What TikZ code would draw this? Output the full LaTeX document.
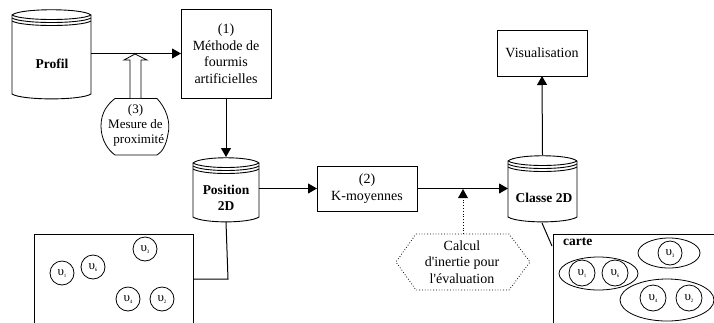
\documentclass[tikz,border=0pt]{standalone}
\usepackage{fontspec}
\setmainfont{Liberation Serif}
\usetikzlibrary{arrows.meta,shapes.geometric}
\newcommand{\dbcyl}[5]{% name, x1, top y, x2, bottom y
  \pgfmathsetmacro{\xa}{#2}\pgfmathsetmacro{\xb}{#4}\pgfmathsetmacro{\ya}{#3}\pgfmathsetmacro{\yb}{#5}
  \pgfmathsetmacro{\yc}{\ya+6}
  \node[anchor=north west,minimum width=\xb-\xa,minimum height=\yb-\ya,inner sep=0pt,outer sep=0pt] (#1) at (\xa,\ya) {};
  \draw[cylline,fill=white] (\xa,\yc) .. controls (\xa+8,\ya-1) and (\xb-8,\ya-1) .. (\xb,\yc)
     -- (\xb,\yb-5) .. controls (\xb-10,\yb+1.5) and (\xa+10,\yb+1.5) .. (\xa,\yb-5) -- cycle;
  \foreach \d in {0,3,6}{
    \draw[cylline] (\xa,\yc+\d) .. controls (\xa+10,\yc+\d+6) and (\xb-10,\yc+\d+6) .. (\xb,\yc+\d);}
}
\tikzset{
  x=1pt,y=-1pt,
  cylline/.style={line width=0.9pt},
  conn/.style={line width=1pt},
  arr/.style={conn,-{Triangle[length=9pt,width=10pt]}},
  boxn/.style={draw,line width=0.9pt,inner sep=0pt,outer sep=0pt,fill=white,align=center,
     font=\fontsize{14}{16.5}\selectfont},
  lab/.style={inner sep=0pt,align=center,font=\fontsize{14}{16.5}\selectfont},
  blab/.style={inner sep=0pt,align=center,font=\fontsize{13.5}{16}\selectfont\bfseries},
  item/.style={circle,draw,line width=0.8pt,minimum size=24pt,inner sep=0pt,font=\fontsize{13}{13}\selectfont},
  group/.style={ellipse,draw,line width=0.8pt,inner sep=0pt},
}
\newcommand{\vv}[1]{υ\raisebox{-2pt}{\fontsize{5}{5}\selectfont #1}}
\begin{document}
\begin{tikzpicture}
\useasboundingbox (0,0) rectangle (714,322);
\clip (0,0) rectangle (714,322);
% databases
\dbcyl{profil}{12}{9}{91}{99}
\dbcyl{posc}{193}{157}{259}{222}
\dbcyl{classe}{508}{155}{577}{222}
\node[blab] at (52,64) {Profil};
\node[blab] at (226,198) {Position\\2D};
\node[blab,anchor=west] at (515.5,198) {Classe 2D};
% boxes
\node[boxn,minimum width=90pt,minimum height=89pt] (meth) at (226,53.5) {(1)\\Méthode de\\fourmis\\artificielles};
\node[boxn,minimum width=100pt,minimum height=45pt] (km) at (367,188.5) {(2)\\K-moyennes};
\node[boxn,minimum width=90pt,minimum height=46pt] (vis) at (542,53) {Visualisation};
% maps
\node[draw,line width=0.9pt,minimum width=159pt,minimum height=120pt,inner sep=0pt,outer sep=0pt,anchor=north west] (mapa) at (34,234) {};
\node[draw,line width=0.9pt,minimum width=200pt,minimum height=120pt,inner sep=0pt,outer sep=0pt,anchor=north west] (mapb) at (553,234) {};
\node[anchor=west,inner sep=0pt,font=\fontsize{13.5}{16}\selectfont\bfseries] at (563,242) {carte};
% left map items
\node[item] (a1) at (62,273) {\vv{1}};
\node[item] (a2) at (93,267) {\vv{6}};
\node[item] (a3) at (145,249) {\vv{3}};
\node[item] (a4) at (128,299) {\vv{4}};
\node[item] (a5) at (162,299) {\vv{2}};
% right map groups
\node[group,minimum width=62pt,minimum height=30pt] (g1) at (669,253) {};
\node[group,minimum width=79pt,minimum height=33pt] (g2) at (598.5,273.5) {};
\node[group,minimum width=94pt,minimum height=42pt] (g3) at (667,300) {};
\node[item] (b3) at (670,253) {\vv{3}};
\node[item,minimum size=26pt] (b1) at (582,273) {\vv{1}};
\node[item,minimum size=26pt] (b6) at (615,273) {\vv{6}};
\node[item,minimum size=26pt] (b4) at (653,298) {\vv{4}};
\node[item,minimum size=26pt] (b2) at (689,298) {\vv{2}};
% mesure
\draw[line width=0.8pt,fill=white] (115,98.5) -- (157,98.5)
  .. controls (166,108) and (171,122) .. (168,134) .. controls (166,146) and (162,152) .. (157,155)
  -- (115,155) .. controls (108,150) and (101,140) .. (101,126) .. controls (101,112) and (108,104) .. (115,98.5) -- cycle;
\node[lab,font=\fontsize{13}{15}\selectfont] (mesure) at (135.5,125.5) {(3)\\Mesure de\\\ \ proximité};
% connectors
\draw[arr] (profil.east |- meth.west) -- (meth.west);
\draw[arr] (meth.south) -- (posc.north);
\draw[arr] (posc.east |- km.west) -- (km.west);
\draw[arr] (km.east) -- (classe.west |- km.east);
\draw[arr] (classe.north) -- (vis.south);
\coordinate (elbow) at (228,279);
\draw[conn] (posc.south) -- (elbow) -- (mapa.east |- elbow);
\coordinate (cb) at (552,246);
\coordinate (cs) at (542,223);
\draw[conn] (cs) -- (cb);
% block arrow
\coordinate (ba) at (135,54);
\draw[line width=0.8pt,fill=white] (130,98) -- (130,60) -- (124,60) -- (ba) -- (147,60) -- (141,60) -- (141,98);
% hexagon
\draw[dotted,line width=0.8pt] (416,234) -- (509,234) -- (530,262) -- (509,290) -- (416,290) -- (396,262) -- cycle;
\node[lab] (hex) at (462,262) {Calcul\\d\textquotesingle inertie pour\\l\textquotesingle évaluation};
\coordinate (ht) at (463,234);
\coordinate (ha) at (463,189);
\draw[line width=0.8pt,dotted] (ht) -- (463,198);
\fill (ha) -- (468,198) -- (458,198) -- cycle;
\end{tikzpicture}
\end{document}
